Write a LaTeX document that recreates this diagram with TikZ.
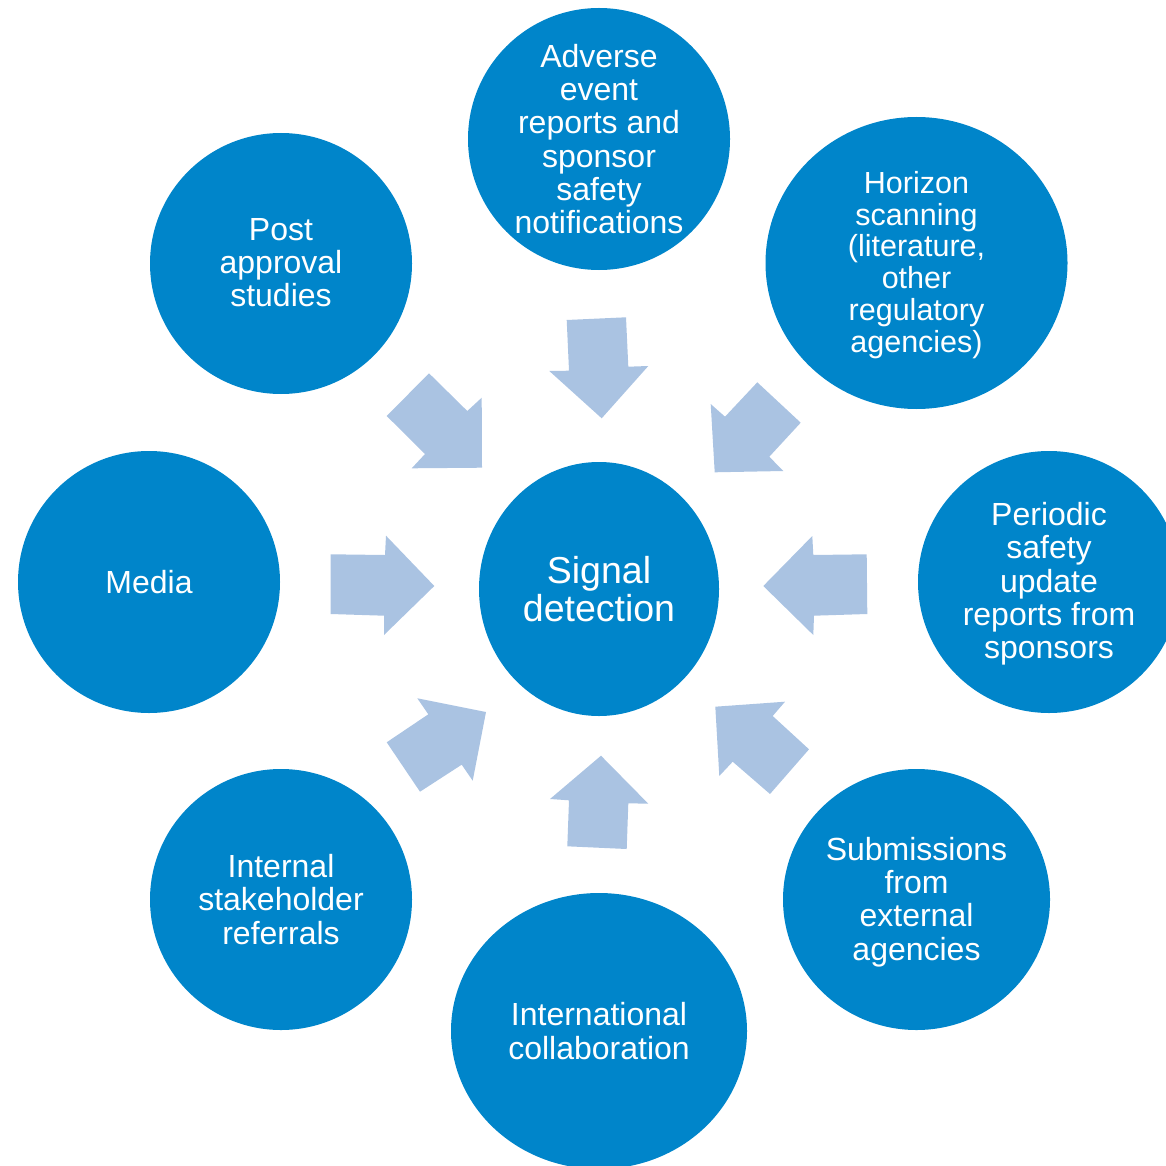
\documentclass[tikz,border=0pt]{standalone}
\usepackage{fontspec}
\setmainfont{Liberation Sans}
\usetikzlibrary{shapes.geometric}
\definecolor{hubblue}{HTML}{0085CA}
\definecolor{feedblue}{HTML}{AAC3E2}
\begin{document}
\begin{tikzpicture}[x=1pt,y=-1pt,
  disc/.style={ellipse,fill=hubblue,draw=none,inner sep=0pt},
  txt/.style={text=white,align=center,inner sep=0pt,font=\fontsize{32}{33.3}\selectfont},
  feed/.style={fill=feedblue,draw=none}]
\clip (0,0) rectangle (1166,1166);

% sources around the hub
\node[disc,minimum width=240pt,minimum height=254pt] (hub) at (599,589) {};
\node[txt,font=\fontsize{37.5}{38.3}\selectfont] (hubtxt) at (hub) {Signal\\detection};

\node[disc,minimum width=262pt,minimum height=262pt] (adv) at (599,139) {};
\node[txt] (advtxt) at (adv) {Adverse\\event\\reports and\\sponsor\\safety\\notifications};

\node[disc,minimum width=302pt,minimum height=292pt] (hor) at (916.5,263) {};
\node[txt,font=\fontsize{30.5}{31.8}\selectfont] (hortxt) at ([yshift=-2pt]hor.center) {Horizon\\scanning\\(literature,\\other\\regulatory\\agencies)};

\node[disc,minimum width=262pt,minimum height=262pt] (psur) at (1049,582) {};
\node[txt] (psurtxt) at ([yshift=-2pt]psur.center) {Periodic\\safety\\update\\reports from\\sponsors};

\node[disc,minimum width=267pt,minimum height=261pt] (sub) at (916.5,899.5) {};
\node[txt] (subtxt) at ([yshift=-2.5pt]sub.center) {Submissions\\from\\external\\agencies};

\node[disc,minimum width=296pt,minimum height=276pt] (intl) at (599,1031) {};
\node[txt] (intltxt) at (intl) {International\\collaboration};

\node[disc,minimum width=262pt,minimum height=261pt] (ref) at (281,899.5) {};
\node[txt] (reftxt) at (ref) {Internal\\stakeholder\\referrals};

\node[disc,minimum width=262pt,minimum height=262pt] (media) at (149,582) {};
\node[txt] (mediatxt) at (media) {Media};

\node[disc,minimum width=262pt,minimum height=261pt] (post) at (281,263.5) {};
\node[txt] (posttxt) at ([yshift=1pt]post.center) {Post\\approval\\studies};

% block arrows pointing into the hub
\fill[feed] (566.7,320) -- (626,317.3) -- (628.3,366.7) -- (648.3,366) -- (601.7,418.3) -- (549.3,371) -- (569,370.7) -- cycle;
\fill[feed] (757.3,382.3) -- (800.7,422.7) -- (769.3,456.7) -- (783.3,471) -- (714.7,472.3) -- (710.7,404) -- (725,416.7) -- cycle;
\fill[feed] (866.7,554.3) -- (867.3,614) -- (814,615.7) -- (813.3,635) -- (763.3,586) -- (812.3,536) -- (813.3,555) -- cycle;
\fill[feed] (715.3,706.7) -- (785,701.7) -- (772.7,716) -- (809,749.3) -- (770,794) -- (732.7,761.7) -- (719.3,776) -- cycle;
\fill[feed] (601,755.7) -- (648.3,803.7) -- (628.3,803.3) -- (626.7,849) -- (567.3,846.3) -- (569,800.3) -- (550,799) -- cycle;
\fill[feed] (417.3,698.3) -- (486,712) -- (472.7,780.7) -- (461.7,764.7) -- (420,791.7) -- (386.7,742.3) -- (428.3,714.3) -- cycle;
\fill[feed] (330.7,554.3) -- (385,555) -- (386,535.7) -- (434.3,586) -- (384,635) -- (384,615.7) -- (330.7,614) -- cycle;
\fill[feed] (386.7,416) -- (429,373.3) -- (467.3,411) -- (481.7,397.7) -- (482,467.7) -- (411.7,468.3) -- (425,454) -- cycle;
\end{tikzpicture}
\end{document}
